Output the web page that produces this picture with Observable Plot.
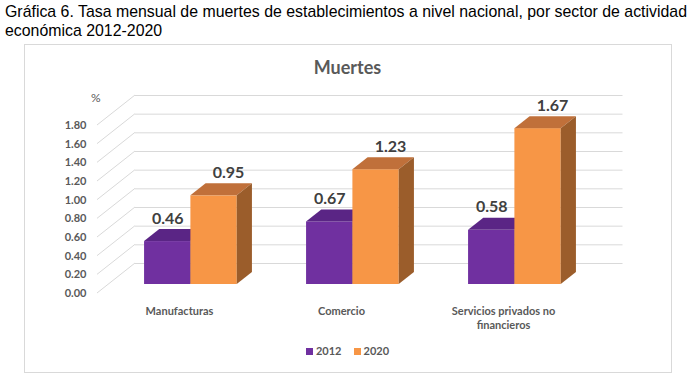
<!DOCTYPE html>
<html><head><meta charset="utf-8">
<script src="https://cdn.jsdelivr.net/npm/d3@7"></script>
<script src="https://cdn.jsdelivr.net/npm/@observablehq/plot@0.6"></script>
<style>
body{margin:0;background:#fff;}
#wrap{position:relative;width:694px;height:383px;overflow:hidden;background:#fff;}
#frame{position:absolute;left:24px;top:44px;width:646px;height:327px;border:1px solid #d9d9d9;}
#chart{position:absolute;left:0;top:0;}
#title{position:absolute;left:5px;top:2px;font-family:"Liberation Sans Narrow","Arial Narrow","Liberation Sans",Arial,sans-serif;font-size:17px;line-height:19px;color:#000;white-space:nowrap;transform-origin:0 0;}
#ctitle{position:absolute;left:24px;width:647px;top:56px;text-align:center;font-family:Lato,sans-serif;font-weight:bold;font-size:18px;color:#595959;}
#pct{position:absolute;left:91px;top:90px;font-family:Lato,sans-serif;font-size:12px;color:#595959;}
#legend{position:absolute;left:24px;width:647px;top:344px;display:flex;justify-content:center;gap:12px;font-family:Lato,sans-serif;font-weight:bold;font-size:11px;color:#595959;}
#legend span.sw{display:inline-block;width:7px;height:7px;margin-right:3px;vertical-align:0px;}
</style></head>
<body>
<div id="wrap">
  <div id="frame"></div>
  <div id="chart"></div>
  <div id="title"><span id="t1">Gráfica 6. Tasa mensual de muertes de establecimientos a nivel nacional, por sector de actividad</span><br>económica 2012-2020</div>
  <div id="ctitle">Muertes</div>
  <div id="pct">%</div>
  <div id="legend"></div>
</div>
<script>
// ---- data ----
const categories = ["Manufacturas", "Comercio", "Servicios privados no\nfinancieros"];
const years = ["2012", "2020"];
const values2012 = [0.46, 0.67, 0.58];
const values2020 = [0.95, 1.23, 1.67];
const yTicks = [0, 0.2, 0.4, 0.6, 0.8, 1.0, 1.2, 1.4, 1.6, 1.8];

// ---- style ----
const frontColors = ["#7030A0", "#F79646"];
const topColors = ["#5A2585", "#C0703A"];
const sideColors = ["#4A1E6C", "#9B5D2B"];
const DX = 38, DY = 30;          // depth of the 3D box (px)
const F0 = 0.3, F1 = 0.7;        // bar depth fractions
const BAR = 0.286;               // bar width as share of the band

const series = [values2012, values2020];
const data = categories.flatMap((c, i) => years.map((yr, j) => ({category: c, year: yr, s: j, value: series[j][i]})));

function diagonals(index, scales, values, dims) {
  const g = d3.create("svg:g");
  const x0 = dims.marginLeft;
  for (const i of index) {
    const y = scales.y(yTicks[i]);
    g.append("line").attr("x1", x0).attr("y1", y).attr("x2", x0 + DX).attr("y2", y - DY)
      .attr("stroke", "#d9d9d9").attr("stroke-width", 1);
  }
  return g.node();
}

function bars3d(index, scales, values, dims) {
  const g = d3.create("svg:g");
  const bw = scales.x.bandwidth();
  const w = bw * BAR;
  const ddx = (F1 - F0) * DX, ddy = (F1 - F0) * DY;
  const order = Array.from(index).sort((a, b) => data[a].s - data[b].s);
  for (const i of order) {
    const d = data[i];
    const c = scales.x(d.category) + bw / 2;
    const x0 = c + (d.s - 1) * w + F0 * DX;
    const x1 = x0 + w;
    const yt = scales.y(d.value) - F0 * DY;
    const yb = scales.y(0) - F0 * DY;
    g.append("rect").attr("x", x0).attr("y", yt).attr("width", w).attr("height", yb - yt).attr("fill", frontColors[d.s]);
    g.append("path").attr("d", `M${x0},${yt}L${x1},${yt}L${x1 + ddx},${yt - ddy}L${x0 + ddx},${yt - ddy}Z`).attr("fill", topColors[d.s]);
    g.append("path").attr("d", `M${x1},${yt}L${x1 + ddx},${yt - ddy}L${x1 + ddx},${yb - ddy}L${x1},${yb}Z`).attr("fill", sideColors[d.s]);
  }
  return g.node();
}

const chart = Plot.plot({
  width: 694, height: 383,
  marginLeft: 97, marginRight: 109.5, marginTop: 125, marginBottom: 90,
  style: {background: "transparent", fontFamily: "Lato, sans-serif"},
  x: {domain: categories, padding: 0, axis: null},
  y: {domain: [0, 1.8], axis: null},
  color: {domain: years, range: frontColors},
  marks: [
    Plot.ruleY(yTicks, {y: d => d, stroke: "#d9d9d9", dx: DX, dy: -DY}),
    Plot.ruleY(yTicks, {y: d => d, render: diagonals}),
    Plot.text(yTicks, {y: d => d, frameAnchor: "left", textAnchor: "end", dx: -11, text: d => d.toFixed(2), fontSize: 11, fontWeight: "bold", fill: "#595959"}),
    Plot.text(categories, {x: d => d, frameAnchor: "bottom", lineAnchor: "top", dy: 11, lineHeight: 1.3, text: d => d, fontSize: 11, fontWeight: "bold", fill: "#595959"}),
    Plot.barY(data, {x: "category", y1: 0, y2: "value", fill: "year", render: bars3d}),
    Plot.text(data.filter(d => d.s === 0), {x: "category", y: "value", dx: -11.75, dy: -32, text: d => d.value.toFixed(2), fontSize: 16, fontWeight: "bold", fill: "#404040"}),
    Plot.text(data.filter(d => d.s === 1), {x: "category", y: "value", dx: 49, dy: -32, text: d => d.value.toFixed(2), fontSize: 16, fontWeight: "bold", fill: "#404040"})
  ]
});
document.getElementById("chart").appendChild(chart);

// condense the title so its first line spans the same width as the reference
const t1w = document.getElementById("t1").getBoundingClientRect().width;
if (t1w > 0) document.getElementById("title").style.transform = `scaleX(${Math.min(1, 682 / t1w)})`;

const legend = d3.select("#legend");
years.forEach((yr, j) => {
  const item = legend.append("div");
  item.append("span").attr("class", "sw").style("background", frontColors[j]);
  item.append("span").text(yr);
});
</script>
</body></html>
